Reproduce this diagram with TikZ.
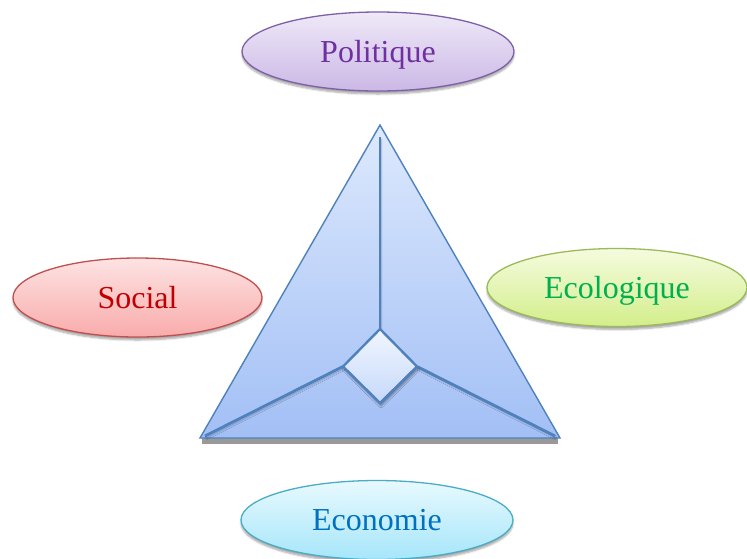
\documentclass[tikz,border=0pt]{standalone}
\usepackage{fontspec}
\setmainfont{Liberation Serif}
\usetikzlibrary{shapes.geometric,shadows.blur}
\definecolor{polB}{HTML}{7E60A8}\definecolor{polT}{HTML}{EFE9F8}\definecolor{polD}{HTML}{CBB8E6}\definecolor{polX}{HTML}{7030A0}
\definecolor{socB}{HTML}{C0504D}\definecolor{socT}{HTML}{FDE3E3}\definecolor{socD}{HTML}{F9ABAB}\definecolor{socX}{HTML}{C00000}
\definecolor{ecoB}{HTML}{9BBB59}\definecolor{ecoT}{HTML}{F5FBDF}\definecolor{ecoD}{HTML}{D3EE8A}\definecolor{ecoX}{HTML}{00B050}
\definecolor{ecnB}{HTML}{4BACC6}\definecolor{ecnT}{HTML}{E8F9FE}\definecolor{ecnD}{HTML}{A6E6FA}\definecolor{ecnX}{HTML}{0070C0}
\definecolor{triB}{HTML}{4F81BD}\definecolor{triT}{HTML}{DDE9FD}\definecolor{triD}{HTML}{A2BFF5}
\tikzset{
  pole/.style={ellipse, draw, line width=1.3pt, inner sep=0pt, text depth=0pt,
    font=\fontsize{32}{32}\selectfont,
    blur shadow={shadow xshift=0pt, shadow yshift=-3pt, shadow blur steps=6, shadow opacity=35}},
  inner line/.style={draw=triB, line width=2.8pt,
    blur shadow={shadow xshift=1pt, shadow yshift=-2pt, shadow blur steps=4, shadow opacity=30}},
}
\begin{document}
\begin{tikzpicture}[x=1pt,y=-1pt]
\useasboundingbox (0,0) rectangle (747,558);
% ellipses
\node[pole, draw=polB, top color=polT, bottom color=polD, text=polX,
  minimum width=272pt, minimum height=79pt] (pol) at (378,51.5) {Politique};
\node[pole, draw=socB, top color=socT, bottom color=socD, text=socX,
  minimum width=249pt, minimum height=79pt] (soc) at (137.5,297.5) {Social};
\node[pole, draw=ecoB, top color=ecoT, bottom color=ecoD, text=ecoX,
  minimum width=260pt, minimum height=78pt] (eco) at (617,287.5) {Ecologique};
\node[pole, draw=ecnB, top color=ecnT, bottom color=ecnD, text=ecnX,
  minimum width=272pt, minimum height=79pt] (ecn) at (377,520) {Economie};
% triangle
\coordinate (apex) at (380,125);
\coordinate (bl) at (200,438);
\coordinate (br) at (560,438);
\fill[black!40] (202,438) rectangle (558,444);
\shade[top color=triT, bottom color=triD] (apex) -- (br) -- (bl) -- cycle;
\draw[triB, line width=1.4pt, line join=miter] (apex) -- (br) -- (bl) -- cycle;
% diamond
\coordinate (dt) at (380,329);
\coordinate (dl) at (343,366.5);
\coordinate (dr) at (417,366.5);
\coordinate (db) at (380,403);
\coordinate (vt) at (380,137);
\coordinate (lf) at (205,436);
\coordinate (rf) at (555,436);
\draw[inner line] (vt) -- (dt);
\draw[inner line] (dl) -- (lf);
\draw[inner line] (dr) -- (rf);
\shade[top color=white!60!triT, bottom color=triT!60!triD,
  blur shadow={shadow xshift=1pt, shadow yshift=-3pt, shadow blur steps=5, shadow opacity=40}]
  (dt) -- (dr) -- (db) -- (dl) -- cycle;
\draw[triB, line width=2.4pt, line join=miter] (dt) -- (dr) -- (db) -- (dl) -- cycle;
\end{tikzpicture}
\end{document}
